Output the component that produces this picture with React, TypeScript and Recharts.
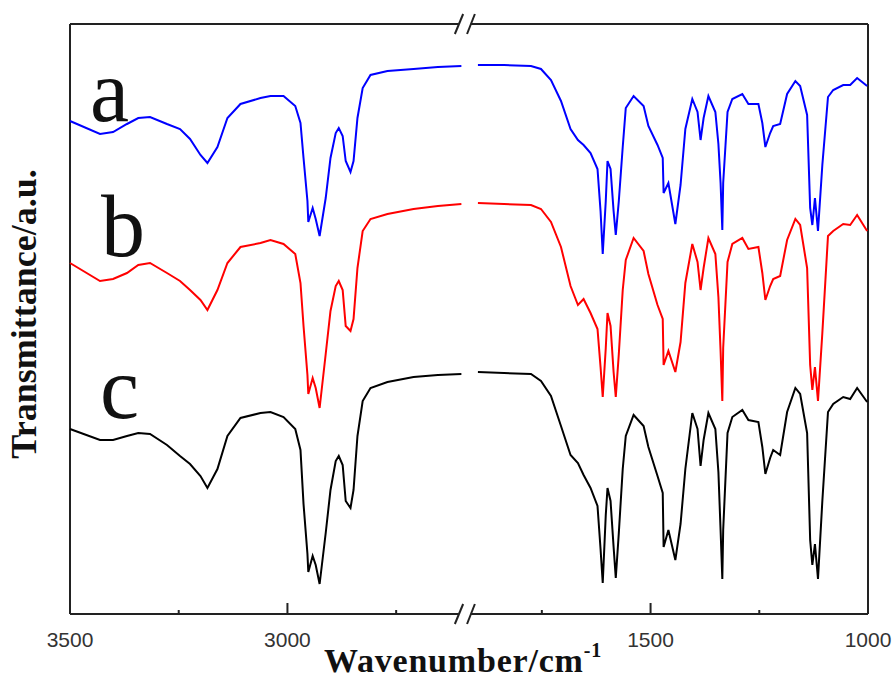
import { LineChart, Line, XAxis, YAxis, ReferenceLine } from "recharts"

// wavenumbers (cm-1), left part of the broken axis
const leftWavenumbers = [
  3500, 3431, 3401, 3369, 3343, 3316, 3277, 3247, 3224, 3200,
  3184, 3161, 3138, 3108, 3062, 3039, 3009, 2982, 2970, 2963,
  2954, 2952, 2942, 2935, 2926, 2912, 2901, 2889, 2882, 2873,
  2866, 2855, 2848, 2839, 2827, 2809, 2770, 2710, 2654, 2600,
]

// right part of the broken axis
const rightWavenumbers = [
  1897, 1837, 1775, 1752, 1729, 1706, 1684, 1667, 1654, 1638,
  1622, 1615, 1610, 1603, 1599, 1592, 1585, 1580, 1573, 1564,
  1557, 1539, 1516, 1505, 1484, 1472, 1470, 1459, 1443, 1431,
  1420, 1404, 1392, 1385, 1378, 1367, 1351, 1344, 1339, 1335,
  1333, 1323, 1312, 1289, 1275, 1252, 1243, 1236, 1225, 1218,
  1202, 1186, 1167, 1156, 1140, 1133, 1128, 1122, 1115, 1105,
  1092, 1080, 1057, 1041, 1025, 1002,
]

// transmittance (a.u., curves already offset as in the figure)
const aLeft = [
  493, 480, 482, 490, 496, 497, 490, 485, 475, 459,
  451, 467, 496, 510, 516, 518, 518, 508, 491, 456,
  413, 392, 406, 395, 378, 416, 456, 481, 486, 478,
  453, 442, 453, 496, 526, 539, 543, 545, 547, 548,
]
const aRight = [
  549, 549, 548, 545, 534, 513, 485, 474, 469, 461,
  445, 403, 360, 413, 453, 445, 403, 379, 413, 467,
  506, 518, 508, 488, 469, 456, 421, 431, 390, 429,
  485, 515, 502, 474, 496, 518, 502, 470, 431, 384,
  431, 502, 515, 520, 510, 510, 491, 467, 481, 488,
  490, 520, 533, 528, 499, 406, 389, 416, 383, 449,
  517, 524, 529, 529, 536, 528,
]

const bLeft = [
  351, 333, 335, 341, 349, 351, 341, 333, 324, 314,
  304, 324, 351, 367, 371, 374, 370, 360, 331, 288,
  239, 220, 236, 226, 206, 260, 303, 328, 333, 324,
  288, 283, 295, 346, 383, 395, 400, 405, 408, 410,
]
const bRight = [
  411, 410, 409, 405, 392, 367, 328, 309, 315, 301,
  285, 247, 217, 266, 301, 288, 242, 217, 260, 324,
  354, 376, 363, 340, 309, 295, 249, 263, 242, 272,
  331, 370, 352, 324, 346, 376, 360, 317, 263, 213,
  266, 352, 370, 376, 365, 367, 341, 314, 328, 335,
  338, 374, 395, 389, 346, 249, 224, 247, 213, 281,
  378, 383, 390, 389, 399, 383,
]

const cLeft = [
  185, 174, 174, 178, 181, 180, 169, 158, 150, 138,
  126, 145, 178, 196, 201, 202, 197, 185, 164, 110,
  60, 42, 58, 49, 30, 81, 124, 153, 158, 149,
  113, 106, 124, 178, 213, 226, 232, 237, 239, 240,
]
const cRight = [
  242, 241, 240, 233, 218, 188, 159, 151, 139, 126,
  108, 65, 31, 99, 126, 113, 67, 36, 81, 145,
  178, 199, 188, 167, 138, 121, 67, 84, 54, 90,
  145, 201, 185, 148, 174, 201, 185, 142, 84, 35,
  84, 181, 197, 204, 194, 192, 167, 140, 156, 164,
  159, 202, 226, 220, 181, 74, 49, 70, 35, 113,
  202, 210, 217, 215, 226, 212,
]

const majorTicks = [3500, 3000, 1500, 1000]
const minorTicks = [3250, 2750, 1750, 1250]

// broken axis: 3500..2600 then 1900..1000 with a small gap in between
const GAP = 35
const toPos = (w: number) => (w >= 2600 ? 3500 - w : 900 + GAP + (1900 - w))
const toWave = (p: number) => (p <= 900 ? 3500 - p : 1900 - (p - 900 - GAP))

function buildRows(left: number[], right: number[]) {
  return [
    ...leftWavenumbers.map((w, i) => ({ pos: toPos(w), v: left[i] })),
    { pos: 900 + GAP / 2, v: null },
    ...rightWavenumbers.map((w, i) => ({ pos: toPos(w), v: right[i] })),
  ]
}

const rowsA = buildRows(aLeft, aRight)
const rowsB = buildRows(bLeft, bRight)
const rowsC = buildRows(cLeft, cRight)

const tickPositions = [...majorTicks, ...minorTicks].map(toPos).sort((p, q) => p - q)

const FRAME = "#222"
const SERIF = "'Times New Roman', 'Liberation Serif', serif"

function WaveTick(props: any) {
  const { x, y, payload } = props
  const w = Math.round(toWave(payload.value))
  const major = majorTicks.includes(w)
  return (
    <g>
      <line x1={x} y1={y} x2={x} y2={y - (major ? 11 : 4)} stroke={FRAME} strokeWidth={2} />
      {major && (
        <text
          x={x}
          y={y + 33}
          textAnchor="middle"
          fontSize={21}
          fill="#333"
          fontFamily="Arial, 'Liberation Sans', sans-serif"
        >
          {w}
        </text>
      )}
    </g>
  )
}

// frame pieces in data units (y 0..590), broken at the axis gap
const frameSegments = [
  [{ x: 0, y: 0 }, { x: 0, y: 590 }],
  [{ x: 1835, y: 0 }, { x: 1835, y: 590 }],
  [{ x: 0, y: 0 }, { x: 894, y: 0 }],
  [{ x: 922, y: 0 }, { x: 1835, y: 0 }],
  [{ x: 0, y: 590 }, { x: 894, y: 590 }],
  [{ x: 922, y: 590 }, { x: 1835, y: 590 }],
  // break marks
  [{ x: 885, y: -10 }, { x: 904, y: 10 }],
  [{ x: 913, y: -10 }, { x: 931, y: 10 }],
  [{ x: 885, y: 580 }, { x: 904, y: 600 }],
  [{ x: 913, y: 580 }, { x: 931, y: 600 }],
]

export default function App() {
  return (
    <div style={{ position: "relative", width: 895, height: 681, background: "#fff" }}>
      <style>{"body{margin:0}"}</style>
      <LineChart width={895} height={681} margin={{ top: 24, right: 27, left: 70, bottom: 0 }}>
        <XAxis
          dataKey="pos"
          type="number"
          domain={[0, 1835]}
          ticks={tickPositions}
          interval={0}
          height={67}
          tickSize={0}
          tickMargin={0}
          axisLine={false}
          tickLine={false}
          tick={<WaveTick />}
        />
        <YAxis type="number" domain={[0, 590]} hide />
        {frameSegments.map((seg, i) => (
          <ReferenceLine key={`f-${i}`} segment={seg} stroke={FRAME} strokeWidth={2} ifOverflow="visible" />
        ))}
        <Line data={rowsA} dataKey="v" type="linear" stroke="#0000ff" strokeWidth={2} dot={false} isAnimationActive={false} />
        <Line data={rowsB} dataKey="v" type="linear" stroke="#ff0000" strokeWidth={2} dot={false} isAnimationActive={false} />
        <Line data={rowsC} dataKey="v" type="linear" stroke="#000000" strokeWidth={2} dot={false} isAnimationActive={false} />
      </LineChart>
      <svg width={895} height={681} style={{ position: "absolute", left: 0, top: 0, pointerEvents: "none" }}>
        <text x={90} y={121} fontSize={88} fontFamily={SERIF} fill="#111">a</text>
        <text x={101} y={256} fontSize={88} fontFamily={SERIF} fill="#111">b</text>
        <text x={100} y={418} fontSize={88} fontFamily={SERIF} fill="#111">c</text>
        <text
          x={36}
          y={314}
          transform="rotate(-90, 36, 314)"
          textAnchor="middle"
          fontSize={36}
          fontWeight="bold"
          fontFamily={SERIF}
          fill="#111"
        >
          Transmittance/a.u.
        </text>
        <text x={324} y={672} fontSize={34} fontWeight="bold" fontFamily={SERIF} fill="#111" letterSpacing={0.8}>
          Wavenumber/cm
          <tspan fontSize={20} dy={-15}>-1</tspan>
        </text>
      </svg>
    </div>
  )
}
